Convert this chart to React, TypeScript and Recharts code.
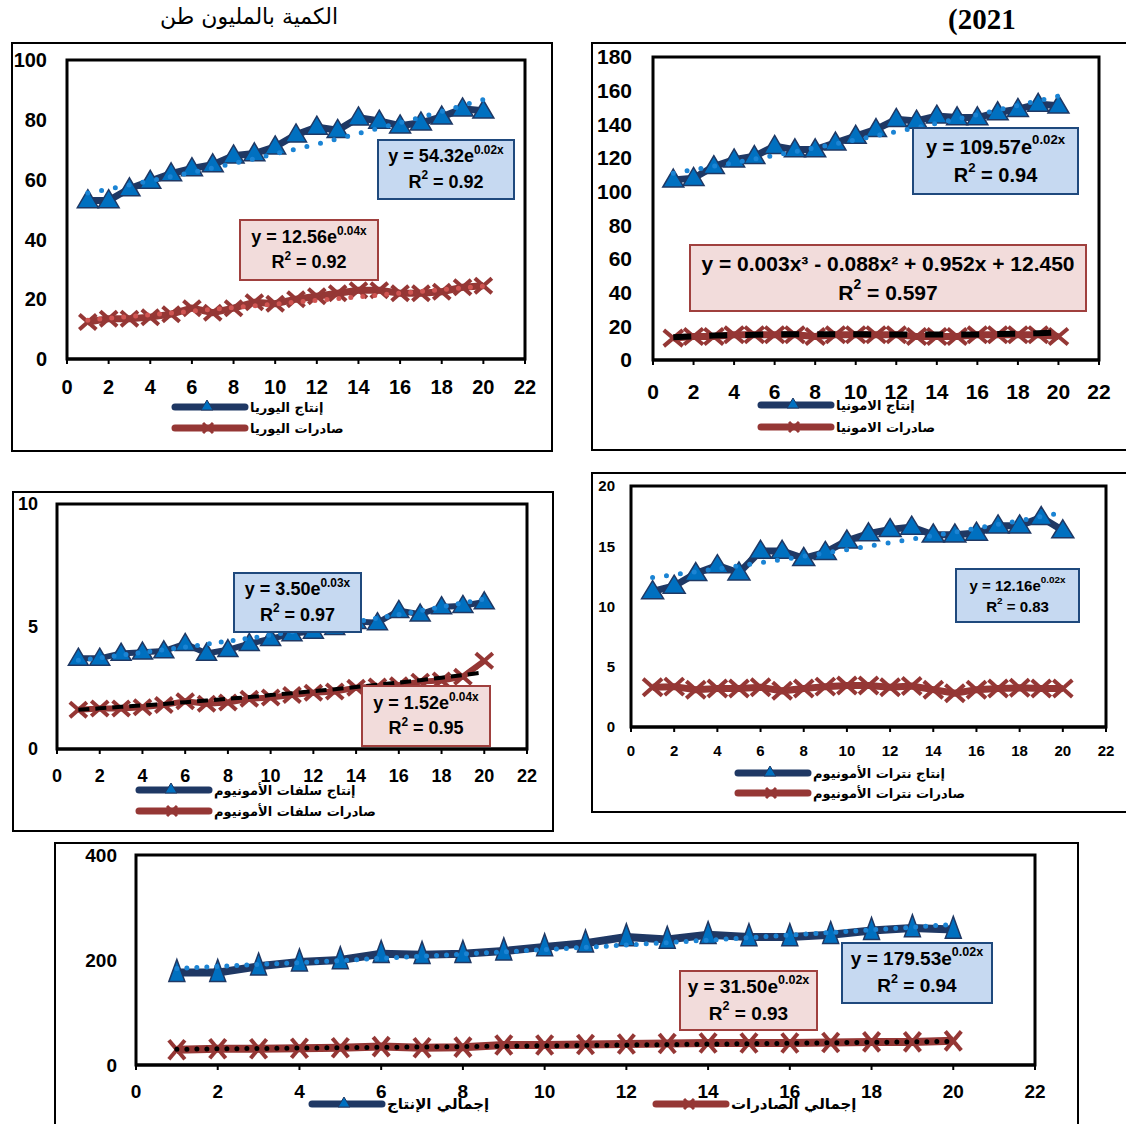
import React from "react";
import { LineChart, Line, XAxis, YAxis, ReferenceArea } from "recharts";

// years index 1..20
const xs = [1, 2, 3, 4, 5, 6, 7, 8, 9, 10, 11, 12, 13, 14, 15, 16, 17, 18, 19, 20];
const xTicks = [0, 2, 4, 6, 8, 10, 12, 14, 16, 18, 20, 22];

// urea
const ureaProd = [53, 53, 57, 59.5, 62, 63.7, 65, 68, 68.7, 71, 75, 77.6, 76.5, 80.7, 79.6, 78, 79, 81, 83.7, 83];
const ureaProdTrend = [55.5, 56.8, 58.2, 59.6, 61.0, 62.4, 63.9, 65.4, 67.0, 68.6, 70.2, 71.9, 73.6, 75.4, 77.2, 79.0, 80.9, 82.8, 84.8, 86.8];
const ureaExp = [12.4, 13.5, 13.5, 14, 15, 17, 15.5, 17, 19, 18.5, 20, 21, 22, 23, 23, 22, 22, 22.5, 24, 24.5];
const ureaExpTrend = [13, 13.6, 14.2, 14.8, 15.4, 16, 16.6, 17.2, 17.8, 18.4, 19, 19.6, 20.2, 20.8, 21.4, 22, 22.6, 23.2, 23.8, 24.4];

// ammonia
const ammProd = [107, 108, 115, 119, 121, 127, 125, 125, 129, 133, 137, 143, 142, 145, 144, 144, 147, 149, 152, 151];
const ammProdTrend = [111, 113.0, 115.1, 117.2, 119.4, 121.6, 123.8, 126.1, 128.4, 130.8, 133.2, 135.6, 138.1, 140.6, 143.2, 145.8, 148.5, 151.2, 154.0, 156.8];
const ammExp = [13, 14, 14, 15, 15, 15, 15, 14, 15, 15, 15, 15, 14, 14, 14, 15, 15, 15, 15, 14];
const ammExpTrend = [13.5, 14, 14.5, 14.8, 15, 15.2, 15.3, 15.3, 15.3, 15.3, 15.2, 15.2, 15.1, 15.1, 15.1, 15.2, 15.4, 15.6, 15.9, 16.3];

// ammonium sulfate
const sulProd = [3.7, 3.7, 3.9, 3.95, 4.0, 4.3, 3.9, 4.05, 4.3, 4.5, 4.7, 4.8, 4.95, 5.2, 5.15, 5.65, 5.5, 5.8, 5.85, 6.0];
const sulProdTrend = [3.62, 3.72, 3.83, 3.94, 4.05, 4.16, 4.28, 4.4, 4.52, 4.65, 4.78, 4.91, 5.05, 5.19, 5.34, 5.49, 5.64, 5.8, 5.96, 6.12];
const sulExp = [1.6, 1.65, 1.65, 1.7, 1.8, 1.95, 1.85, 1.9, 2.05, 2.1, 2.2, 2.3, 2.35, 2.5, 2.55, 2.6, 2.75, 2.8, 2.95, 3.6];
const sulExpTrend = [1.6, 1.66, 1.72, 1.78, 1.84, 1.91, 1.98, 2.05, 2.12, 2.2, 2.28, 2.36, 2.44, 2.53, 2.62, 2.71, 2.81, 2.91, 3.02, 3.13];

// ammonium nitrate
const nitProd = [11.25, 11.7, 12.75, 13.4, 12.8, 14.6, 14.6, 14.0, 14.5, 15.45, 16.05, 16.4, 16.6, 15.95, 15.95, 16.1, 16.7, 16.7, 17.4, 16.3];
const nitProdTrend = [12.4, 12.64, 12.88, 13.13, 13.38, 13.64, 13.9, 14.17, 14.44, 14.72, 15.0, 15.29, 15.58, 15.88, 16.18, 16.49, 16.81, 17.13, 17.46, 17.8];
const nitExp = [3.3, 3.35, 3.1, 3.2, 3.2, 3.3, 3.0, 3.2, 3.35, 3.45, 3.45, 3.3, 3.4, 3.1, 2.8, 3.1, 3.2, 3.25, 3.2, 3.2];

// totals
const totProd = [176, 176, 188, 196, 200, 212, 210, 212, 217, 225, 232, 244, 239, 248, 244, 244, 248, 256, 261, 258];
const totProdTrend = [184, 187.7, 191.4, 195.2, 199.1, 203.1, 207.1, 211.3, 215.5, 219.8, 224.2, 228.6, 233.2, 237.8, 242.6, 247.4, 252.4, 257.4, 262.5, 267.8];
const totExp = [29, 31, 31, 32, 33, 35, 33, 34, 38, 38, 39, 40, 41, 42, 42, 42, 43, 44, 44, 46];
const totExpTrend = [30, 30.8, 31.5, 32.3, 33, 33.7, 34.4, 35.1, 35.8, 36.6, 37.4, 38.2, 39, 39.8, 40.6, 41.4, 42.3, 43.2, 44.1, 45];

const NAVY = "#1F3864";
const BLUE = "#0070C0";
const RED = "#953735";
const NUM_FONT = "'Liberation Sans', Arial, sans-serif";
const NARROW_FONT = "'Liberation Sans Narrow', 'Arial Narrow', 'Liberation Sans', sans-serif";
const AR_FONT = "'DejaVu Sans', sans-serif";

const rows = (prod: number[], prodT: number[], exp: number[], expT?: number[]) =>
  xs.map((x, i) => ({ x, prod: prod[i], prodT: prodT[i], exp: exp[i], expT: expT ? expT[i] : null }));

const triDot = (w: number, h: number) => (p: any) => {
  const { cx, cy, index } = p;
  if (cx == null || cy == null) return <g key={index} />;
  return (
    <path
      key={index}
      d={`M${cx},${cy - h * 0.6} L${cx + w / 2},${cy + h * 0.4} L${cx - w / 2},${cy + h * 0.4} Z`}
      fill={BLUE}
      stroke={NAVY}
      strokeWidth={1.5}
    />
  );
};

const xDot = (w: number, h: number, sw: number) => (p: any) => {
  const { cx, cy, index } = p;
  if (cx == null || cy == null) return <g key={index} />;
  return (
    <g key={index} stroke={RED} strokeWidth={sw}>
      <line x1={cx - w / 2} y1={cy - h / 2} x2={cx + w / 2} y2={cy + h / 2} />
      <line x1={cx - w / 2} y1={cy + h / 2} x2={cx + w / 2} y2={cy - h / 2} />
    </g>
  );
};

type Box = { left: number; top: number; w: number; h: number };
type Plot = { l: number; t: number; r: number; b: number };
type EqBox = { left: number; top: number; w: number; h: number; coef: string; exp?: string; r2: string; red?: boolean; fs: number; font?: string };
type Leg = { left: number; top: number; text: string; kind: "prod" | "exp"; fs: number };

type PanelProps = {
  box: Box;
  plot: Plot;
  data: any[];
  yMax: number;
  yTicks: number[];
  tickFs: number;
  tickFont?: string;
  xGap: number;
  yGap: number;
  lineW: number;
  tri: [number, number];
  cross: [number, number, number];
  dotGap: number;
  expTrend?: { stroke: string; dash: string; width: number; round: boolean };
};

const Panel: React.FC<PanelProps> = ({ box, plot, data, yMax, yTicks, tickFs, tickFont, xGap, yGap, lineW, tri, cross, dotGap, expTrend }) => {
  const tickStyle = { fontSize: tickFs, fontWeight: 700, fill: "#000", fontFamily: tickFont || NUM_FONT };
  const xh = 44;
  const trendProps: any = { zIndex: 700 };
  return (
    <div style={{ position: "absolute", left: box.left, top: box.top, width: box.w, height: box.h, border: "2px solid #000", boxSizing: "border-box" }}>
      <div style={{ position: "absolute", left: -2, top: -2 }}>
        <LineChart
          width={box.w}
          height={box.h}
          data={data}
          margin={{ top: plot.t, right: box.w - plot.r, left: 0, bottom: box.h - plot.b - xh }}
        >
          <XAxis
            dataKey="x"
            type="number"
            domain={[0, 22]}
            ticks={xTicks}
            interval={0}
            height={xh}
            axisLine={{ stroke: "#000", strokeWidth: 3 }}
            tickLine={{ stroke: "#000", strokeWidth: 2 }}
            tickSize={5}
            tickMargin={xGap}
            tick={tickStyle}
          />
          <YAxis
            type="number"
            domain={[0, yMax]}
            ticks={yTicks}
            interval={0}
            width={plot.l}
            axisLine={false}
            tickLine={false}
            tickSize={0}
            tickMargin={yGap}
            tick={tickStyle}
          />
          <ReferenceArea x1={0} x2={22} y1={0} y2={yMax} fill="none" stroke="#000" strokeWidth={3} ifOverflow="visible" />
          <Line dataKey="prod" stroke={NAVY} strokeWidth={lineW} dot={triDot(tri[0], tri[1])} activeDot={false} isAnimationActive={false} />
          <Line dataKey="exp" stroke={RED} strokeWidth={lineW} dot={xDot(cross[0], cross[1], cross[2])} activeDot={false} isAnimationActive={false} />
          <Line
            {...trendProps}
            dataKey="prodT"
            stroke="#1B84D4"
            strokeWidth={5}
            strokeDasharray={`0 ${dotGap}`}
            strokeLinecap="round"
            dot={false}
            activeDot={false}
            type="monotone"
            isAnimationActive={false}
          />
          {expTrend && (
            <Line
              {...trendProps}
              dataKey="expT"
              stroke={expTrend.stroke}
              strokeWidth={expTrend.width}
              strokeDasharray={expTrend.dash}
              strokeLinecap={expTrend.round ? "round" : "butt"}
              dot={false}
              activeDot={false}
              type="monotone"
              isAnimationActive={false}
            />
          )}
        </LineChart>
      </div>
    </div>
  );
};

const EqLabel: React.FC<{ b: EqBox }> = ({ b }) => {
  const supStyle: React.CSSProperties = { fontSize: b.fs * 0.66, verticalAlign: "top", position: "relative", top: -b.fs * 0.12 };
  return (
    <div
      style={{
        position: "absolute",
        left: b.left,
        top: b.top,
        width: b.w,
        height: b.h,
        boxSizing: "border-box",
        background: b.red ? "#F2DCDB" : "#C6D9F1",
        border: `2px solid ${b.red ? "#A0403E" : "#1F497D"}`,
        fontFamily: b.font || NUM_FONT,
        fontWeight: 700,
        fontSize: b.fs,
        color: "#000",
        textAlign: "center",
        display: "flex",
        flexDirection: "column",
        justifyContent: "center",
        lineHeight: 1.4,
        whiteSpace: "nowrap",
      }}
    >
      <div>
        {b.coef}
        {b.exp && <span style={supStyle}>{b.exp}</span>}
      </div>
      <div>
        R<span style={supStyle}>2</span> = {b.r2}
      </div>
    </div>
  );
};

const LegendItem: React.FC<{ l: Leg }> = ({ l }) => {
  const color = l.kind === "prod" ? NAVY : RED;
  return (
    <div style={{ position: "absolute", left: l.left, top: l.top - 10, height: 20, display: "flex", alignItems: "center", whiteSpace: "nowrap" }}>
      <svg width={78} height={20}>
        <line x1={4} y1={10} x2={74} y2={10} stroke={color} strokeWidth={7} strokeLinecap="round" />
        {l.kind === "prod" ? (
          <path d="M36,3 L42,13 L30,13 Z" fill={BLUE} stroke={NAVY} strokeWidth={1} />
        ) : (
          <g stroke={color} strokeWidth={3}>
            <line x1={32} y1={5} x2={42} y2={15} />
            <line x1={32} y1={15} x2={42} y2={5} />
          </g>
        )}
      </svg>
      <span style={{ fontFamily: AR_FONT, fontSize: l.fs, fontWeight: 700, color: "#000", marginLeft: 1 }}>{l.text}</span>
    </div>
  );
};

const eqBoxes: EqBox[] = [
  { left: 377, top: 139, w: 138, h: 61, coef: "y = 54.32e", exp: "0.02x", r2: "0.92", fs: 18 },
  { left: 239, top: 219, w: 140, h: 62, coef: "y = 12.56e", exp: "0.04x", r2: "0.92", red: true, fs: 18 },
  { left: 912, top: 127, w: 167, h: 68, coef: "y = 109.57e", exp: "0.02x", r2: "0.94", fs: 20 },
  { left: 689, top: 244, w: 398, h: 68, coef: "y = 0.003x³ - 0.088x² + 0.952x + 12.450", r2: "0.597", red: true, fs: 21 },
  { left: 233, top: 572, w: 129, h: 61, coef: "y = 3.50e", exp: "0.03x", r2: "0.97", fs: 18 },
  { left: 361, top: 685, w: 130, h: 62, coef: "y = 1.52e", exp: "0.04x", r2: "0.95", red: true, fs: 18 },
  { left: 955, top: 568, w: 125, h: 55, coef: "y = 12.16e", exp: "0.02x", r2: "0.83", fs: 15 },
  { left: 841, top: 942, w: 152, h: 62, coef: "y = 179.53e", exp: "0.02x", r2: "0.94", fs: 19, font: NARROW_FONT },
  { left: 679, top: 970, w: 139, h: 61, coef: "y = 31.50e", exp: "0.02x", r2: "0.93", red: true, fs: 19, font: NARROW_FONT },
];

const legends: Leg[] = [
  { left: 171, top: 407, text: "إنتاج اليوريا", kind: "prod", fs: 13 },
  { left: 171, top: 428, text: "صادرات اليوريا", kind: "exp", fs: 13 },
  { left: 757, top: 405, text: "إنتاج الامونيا", kind: "prod", fs: 13 },
  { left: 757, top: 427, text: "صادرات الامونيا", kind: "exp", fs: 13 },
  { left: 135, top: 790, text: "إنتاج سلفات الأمونيوم", kind: "prod", fs: 13 },
  { left: 135, top: 811, text: "صادرات سلفات الأمونيوم", kind: "exp", fs: 13 },
  { left: 734, top: 773, text: "إنتاج نترات الأمونيوم", kind: "prod", fs: 13 },
  { left: 734, top: 793, text: "صادرات نترات الأمونيوم", kind: "exp", fs: 13 },
  { left: 308, top: 1104, text: "إجمالي الإنتاج", kind: "prod", fs: 15 },
  { left: 652, top: 1104, text: "إجمالي الصادرات", kind: "exp", fs: 15 },
];

export default function App() {
  return (
    <div style={{ position: "absolute", left: 0, top: 0, width: 1126, height: 1124, overflow: "hidden", background: "#fff" }}>
      <div style={{ position: "absolute", left: 160, top: 4, fontFamily: AR_FONT, fontSize: 22, color: "#000" }}>الكمية بالمليون طن</div>
      <div style={{ position: "absolute", left: 948, top: 3, fontFamily: "'Liberation Serif', serif", fontWeight: 700, fontSize: 29, color: "#000" }}>(2021</div>

      <Panel
        box={{ left: 11, top: 42, w: 542, h: 410 }}
        plot={{ l: 56, t: 18, r: 514, b: 317 }}
        data={rows(ureaProd, ureaProdTrend, ureaExp, ureaExpTrend)}
        yMax={100}
        yTicks={[0, 20, 40, 60, 80, 100]}
        tickFs={20}
        xGap={16}
        yGap={20}
        lineW={7}
        tri={[21, 18]}
        cross={[17, 15, 4]}
        dotGap={14}
        expTrend={{ stroke: "#D05552", dash: "0 12", width: 5, round: true }}
      />
      <Panel
        box={{ left: 591, top: 42, w: 545, h: 409 }}
        plot={{ l: 62, t: 15, r: 508, b: 318 }}
        data={rows(ammProd, ammProdTrend, ammExp, ammExpTrend)}
        yMax={180}
        yTicks={[0, 20, 40, 60, 80, 100, 120, 140, 160, 180]}
        tickFs={21}
        xGap={19}
        yGap={21}
        lineW={7}
        tri={[21, 18]}
        cross={[19, 16, 4]}
        dotGap={14}
        expTrend={{ stroke: "#000", dash: "18 18", width: 6, round: false }}
      />
      <Panel
        box={{ left: 12, top: 491, w: 542, h: 341 }}
        plot={{ l: 45, t: 13, r: 515, b: 258 }}
        data={rows(sulProd, sulProdTrend, sulExp, sulExpTrend)}
        yMax={10}
        yTicks={[0, 5, 10]}
        tickFs={18}
        xGap={15}
        yGap={19}
        lineW={6}
        tri={[20, 17]}
        cross={[17, 15, 4]}
        dotGap={12}
        expTrend={{ stroke: "#000", dash: "11 6", width: 4, round: false }}
      />
      <Panel
        box={{ left: 591, top: 472, w: 545, h: 341 }}
        plot={{ l: 40, t: 14, r: 515, b: 255 }}
        data={rows(nitProd, nitProdTrend, nitExp)}
        yMax={20}
        yTicks={[0, 5, 10, 15, 20]}
        tickFs={15}
        xGap={13}
        yGap={16}
        lineW={7}
        tri={[22, 18]}
        cross={[19, 17, 4]}
        dotGap={14}
      />
      <Panel
        box={{ left: 54, top: 842, w: 1025, h: 300 }}
        plot={{ l: 82, t: 13, r: 981, b: 223 }}
        data={rows(totProd, totProdTrend, totExp, totExpTrend)}
        yMax={400}
        yTicks={[0, 200, 400]}
        tickFs={19}
        tickFont={NARROW_FONT}
        xGap={15}
        yGap={19}
        lineW={8}
        tri={[16, 22]}
        cross={[16, 19, 4]}
        dotGap={10}
        expTrend={{ stroke: "#000", dash: "0 10", width: 5, round: true }}
      />

      {eqBoxes.map((b, i) => (
        <EqLabel key={i} b={b} />
      ))}
      {legends.map((l, i) => (
        <LegendItem key={i} l={l} />
      ))}
    </div>
  );
}
